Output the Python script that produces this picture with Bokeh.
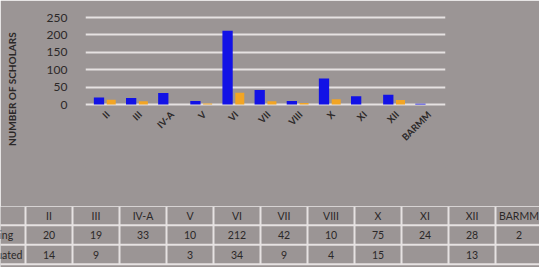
from bokeh.plotting import figure
from bokeh.models import ColumnDataSource, FactorRange, Range1d, FixedTicker
from bokeh.transform import dodge
from bokeh.core.properties import value
from bokeh.embed import file_html
from bokeh.resources import INLINE
import math

# ---- data ----
categories = ["II", "III", "IV-A", "V", "VI", "VII", "VIII", "X", "XI", "XII", "BARMM"]
ongoing = [20, 19, 33, 10, 212, 42, 10, 75, 24, 28, 2]
graduated = [14, 9, None, 3, 34, 9, 4, 15, None, 13, None]
y_ticks = [0, 50, 100, 150, 200, 250]
row_labels = ["Ongoing", "Graduated"]
y_title = "NUMBER OF SCHOLARS"

# ---- styles ----
BG = "#9b9595"
GRID = "#e6e2e2"
BLUE = "#1212e6"
ORANGE = "#f2a524"
TXT = "#2b2828"
FONT = "Lato"

W = 539
CH = 206
TH = 61

src = ColumnDataSource(dict(
    cat=categories,
    ongoing=ongoing,
    graduated=[v if v is not None else math.nan for v in graduated],
))

# chart frame: page y 12..165, value 0 at y=104, 250 at y=17
px_per_unit = (104 - 17) / 250
y_top = 250 + (17 - 12) / px_per_unit
y_bot = -(165 - 104) / px_per_unit

p = figure(x_range=FactorRange(*categories, range_padding=0.1,
                               range_padding_units="absolute"),
           y_range=Range1d(y_bot, y_top),
           width=W, height=CH, output_backend="svg", toolbar_location=None,
           min_border_left=85, min_border_right=W - 445, min_border_top=12,
           min_border_bottom=CH - 165,
           background_fill_color=BG, border_fill_color=BG,
           outline_line_color=BG, outline_line_width=4)

p.vbar(x=dodge("cat", -0.18, range=p.x_range), top="ongoing", width=0.32,
       source=src, fill_color=BLUE, line_color=None)
p.vbar(x=dodge("cat", 0.2, range=p.x_range), top="graduated", width=0.28,
       source=src, fill_color=ORANGE, line_color=None)

# category labels just below the floor
p.text(x=dodge("cat", 0.1, range=p.x_range), y=-24, text="cat", source=src,
       angle=math.pi / 4, text_align="right", text_baseline="middle",
       text_font=value(FONT), text_font_style="bold", text_font_size="9.5px",
       text_color=TXT)

p.xaxis.visible = False
p.yaxis.ticker = FixedTicker(ticks=y_ticks)
p.yaxis.axis_label = y_title
p.yaxis.axis_label_text_font = FONT
p.yaxis.axis_label_text_font_style = "bold"
p.yaxis.axis_label_text_font_size = "10px"
p.yaxis.axis_label_text_color = TXT
p.yaxis.axis_label_standoff = 26
p.yaxis.major_label_text_font = FONT
p.yaxis.major_label_text_font_size = "12px"
p.yaxis.major_label_text_color = TXT
p.yaxis.major_label_standoff = 12
p.yaxis.axis_line_color = None
p.yaxis.major_tick_line_color = None
p.yaxis.minor_tick_line_color = None

p.xgrid.grid_line_color = None
p.ygrid.ticker = FixedTicker(ticks=y_ticks)
p.ygrid.grid_line_color = GRID
p.ygrid.grid_line_width = 2

# ---- data table ----
col_w = 47.0
first_center = 48.5
x_lo = (0 - first_center) / col_w
x_hi = (W - first_center) / col_w
row_h = 19.5
row0 = 215 - CH
y_lo = (0 - row0) / row_h
y_hi = (TH - row0) / row_h

t = figure(x_range=Range1d(x_lo, x_hi), y_range=Range1d(y_hi, y_lo),
           width=W, height=TH, output_backend="svg", toolbar_location=None,
           min_border=0, background_fill_color=BG, border_fill_color=BG,
           outline_line_color=None)
t.axis.visible = False
t.grid.visible = False

n = len(categories)
idx = list(range(n))
vx = [i - 0.5 for i in range(n + 1)]
t.segment(x0=vx, y0=[y_lo] * len(vx), x1=vx, y1=[2.5] * len(vx),
          line_color=GRID, line_width=2)
t.segment(x0=[-0.5, x_lo - 1, x_lo - 1, x_lo - 1], y0=[-0.5, 0.5, 1.5, 2.5],
          x1=[x_hi + 1] * 4, y1=[-0.5, 0.5, 1.5, 2.5],
          line_color=GRID, line_width=2)

tstyle = dict(text_align="center", text_baseline="middle",
              text_font=value(FONT), text_font_size="10.5px", text_color=TXT)
t.text(x=idx, y=[0] * n, text=categories, **tstyle)
t.text(x=idx, y=[1] * n, text=[str(v) for v in ongoing], **tstyle)
gx = [i for i, v in zip(idx, graduated) if v is not None]
gt = [str(v) for v in graduated if v is not None]
t.text(x=gx, y=[2] * len(gx), text=gt, **tstyle)
t.text(x=[-1.6, -1.6], y=[1, 2], text=row_labels, text_align="left",
       text_baseline="middle", text_font=value(FONT),
       text_font_size="10.5px", text_color=TXT)

html = file_html([p, t], INLINE)
html = html.replace("<body>", '<body style="background-color: %s;">' % BG, 1)
open("out.html", "w").write(html)
